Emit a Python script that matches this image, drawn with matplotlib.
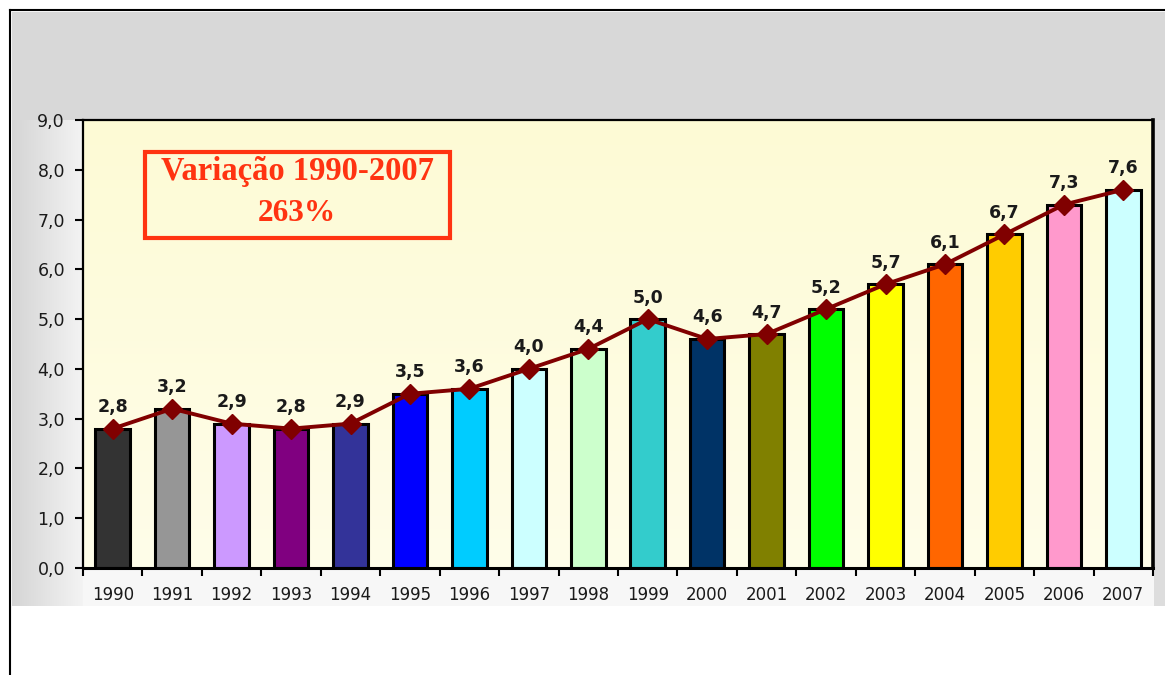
import numpy as np
import matplotlib
matplotlib.use("Agg")
import matplotlib.pyplot as plt
from matplotlib.patches import Rectangle
from matplotlib.lines import Line2D

# ---- data -------------------------------------------------------------
years = ["1990", "1991", "1992", "1993", "1994", "1995", "1996", "1997", "1998",
         "1999", "2000", "2001", "2002", "2003", "2004", "2005", "2006", "2007"]
values = [2.8, 3.2, 2.9, 2.8, 2.9, 3.5, 3.6, 4.0, 4.4,
          5.0, 4.6, 4.7, 5.2, 5.7, 6.1, 6.7, 7.3, 7.6]
bar_colors = ["#333333", "#969696", "#cc99ff", "#800080", "#333399", "#0000ff",
              "#00ccff", "#ccffff", "#ccffcc", "#33cccc", "#003366", "#808000",
              "#00ff00", "#ffff00", "#ff6600", "#ffcc00", "#ff99cc", "#ccffff"]
y_ticks = [0, 1, 2, 3, 4, 5, 6, 7, 8, 9]
note_lines = ["Variação 1990-2007", "263%"]

W, H = 1165, 675
fig = plt.figure(figsize=(W / 100, H / 100), dpi=100)
fig.patch.set_facecolor("white")

# ---- gray backdrop around the plot -----------------------------------
PL, PR, PT, PB = 83, 1153, 120, 568   # plot rectangle in pixels
yy, xx = np.mgrid[0:H, 0:W].astype(float)
gray = np.ones((H, W))
region = (yy >= 12) & (yy <= 605) & (xx >= 12)
left = np.clip((PL - xx) / 71.0, 0, 1)
g = np.full((H, W), 0.97)
g = np.where(xx < PL, 0.955 - 0.12 * left, g)
g = np.where(xx > PR, 0.87, g)
g = np.where(yy < PT, 0.85, g)
gray = np.where(region, g, gray)
bg = fig.add_axes([0, 0, 1, 1], zorder=-10)
bg.imshow(np.dstack([gray] * 3), extent=(0, W, H, 0), aspect="auto",
          interpolation="bilinear")
bg.set_xlim(0, W)
bg.set_ylim(H, 0)
bg.axis("off")

# outer frame (top and left edges)
fig.add_artist(Line2D([10 / W, 1], [1 - 10 / H, 1 - 10 / H],
                      transform=fig.transFigure, color="black", lw=1.5))
fig.add_artist(Line2D([10 / W, 10 / W], [0, 1 - 10 / H],
                      transform=fig.transFigure, color="black", lw=1.5))

# ---- main axes --------------------------------------------------------
ax = fig.add_axes([PL / W, 1 - PB / H, (PR - PL) / W, (PB - PT) / H])
x = np.arange(len(years))
ax.set_xlim(-0.5, len(years) - 0.5)
ax.set_ylim(0, 9)

# pale yellow plot background, slightly stronger towards the top
n = 200
t = np.linspace(0, 1, n)[:, None]
top_c = np.array([0.992, 0.983, 0.835])
bot_c = np.array([1.000, 0.993, 0.915])
grad = (top_c * (1 - t) + bot_c * t)[:, None, :].repeat(2, axis=1)
ax.imshow(grad, extent=(-0.5, len(years) - 0.5, 0, 9), aspect="auto",
          zorder=0, interpolation="bilinear")

ax.bar(x, values, width=0.58, color=bar_colors, edgecolor="black",
       linewidth=2.2, zorder=2)
ax.plot(x, values, color="#800000", lw=2.8, marker="D", ms=10,
        markeredgecolor="#800000", zorder=3)

for xi, v in zip(x, values):
    ax.annotate(f"{v:.1f}".replace(".", ","), (xi, v), xytext=(0, 15.5),
                textcoords="offset points", ha="center", va="center",
                fontsize=12.5, fontweight="bold", color="#1a1a1a",
                family="DejaVu Sans", zorder=4)

# axes styling
for side, lw in (("left", 1.6), ("bottom", 2.2), ("top", 1.6), ("right", 2.6)):
    ax.spines[side].set_linewidth(lw)
    ax.spines[side].set_color("black")

ax.set_yticks(y_ticks)
ax.set_yticklabels([f"{v:.1f}".replace(".", ",") for v in y_ticks],
                   fontsize=12.5, color="#1a1a1a", family="DejaVu Sans")
ax.tick_params(axis="y", direction="out", length=6, width=1.5, pad=7)

ax.set_xticks(np.arange(-0.5, len(years)), minor=False)
ax.set_xticklabels([])
ax.set_xticks(x, minor=True)
ax.set_xticklabels(years, minor=True, fontsize=12, color="#1a1a1a",
                   family="DejaVu Sans")
ax.tick_params(axis="x", which="major", direction="out", length=6, width=1.5)
ax.tick_params(axis="x", which="minor", length=0, pad=13)

# annotation box
ax.add_patch(Rectangle((0.058, 0.737), 0.285, 0.192, transform=ax.transAxes,
                       fill=False, edgecolor="#ff3311", lw=3, zorder=5))
ax.text(0.2, 0.884, note_lines[0], transform=ax.transAxes, ha="center",
        va="center", fontsize=23.5, fontweight="bold", color="#ff3311",
        family="Liberation Serif", zorder=6)
ax.text(0.2, 0.792, note_lines[1], transform=ax.transAxes, ha="center",
        va="center", fontsize=22.5, fontweight="bold", color="#ff3311",
        family="Liberation Serif", zorder=6)

fig.savefig("out.png", dpi=100)
